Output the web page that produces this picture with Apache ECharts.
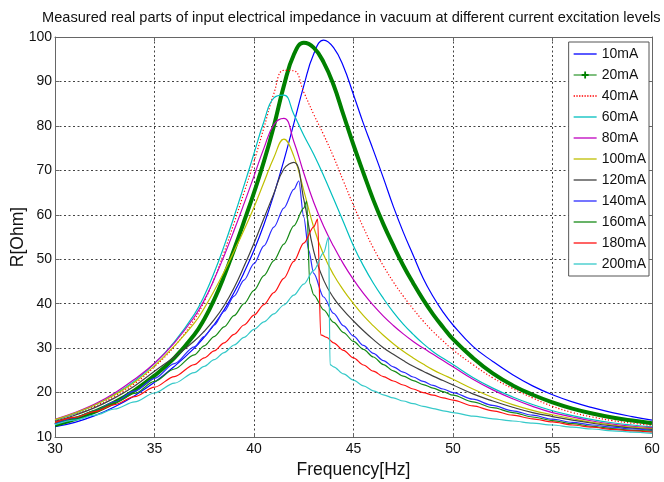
<!DOCTYPE html>
<html><head><meta charset="utf-8">
<script src="https://cdn.jsdelivr.net/npm/echarts@6/dist/echarts.min.js"></script>
<style>html,body{margin:0;padding:0;background:#fff}#c{width:664px;height:482px}</style>
</head><body><div id="c"></div>
<script>
// ---- data ----
const titleText = 'Measured real parts of input electrical impedance in vacuum at different current excitation levels';
const seriesNames = ['10mA','20mA','40mA','60mA','80mA','100mA','120mA','140mA','160mA','180mA','200mA'];
const xTicks = [30, 35, 40, 45, 50, 55, 60];
const yTicks = [10, 20, 30, 40, 50, 60, 70, 80, 90, 100];

// shared frequency grid (Hz)
const freqs = [30,31,32,33,34,35,36,37,
  37.5,38,38.5,39,39.5,40,40.5,41,41.5,42,42.5,43,43.5,44,44.5,45,45.5,46,46.5,47,47.5,48,48.5,49,49.5,50,
  51,52,53,54,55,56,57,58,59,60];

const r10 = [12.3,13.3,14.8,16.8,19.3,22.3,25.9,30.0,
  32.5,35.3,38.6,42.5,47.0,52.0,57.8,64.6,72.2,80.5,89.0,96.2,99.3,97.6,93.3,87.0,80.5,74.5,68.3,61.9,56.1,50.9,45.7,41.6,38.1,35.2,
  30.4,27.0,24.0,21.5,19.5,17.9,16.6,15.5,14.6,13.8];
const r20 = [12.7,14.0,15.7,17.8,20.5,23.8,27.8,33.0,
  36.5,40.9,46.2,52.2,58.5,65.0,72.0,80.0,89.0,96.0,98.7,97.6,94.3,89.2,82.4,75.7,69.4,63.3,57.9,53.1,48.6,44.6,40.9,37.6,34.7,32.0,
  27.8,24.3,21.6,19.5,17.8,16.4,15.3,14.4,13.7,13.1];
const r40 = [13.7,15.1,16.9,19.2,22.0,25.8,30.4,36.4,
  40.5,45.6,51.6,58.2,65.0,72.0,79.6,87.3,92.5,92.4,87.6,82.6,78.0,73.0,67.5,62.1,57.1,52.5,48.5,44.9,41.7,38.8,36.1,33.7,31.6,29.6,
  26.3,23.3,20.9,18.8,16.9,15.5,14.5,13.7,13.1,12.6];
const r60 = [13.8,15.3,17.2,19.6,22.6,26.5,31.4,37.6,
  41.8,47.0,53.0,59.6,66.6,73.8,81.0,86.3,86.9,82.6,77.9,73.6,68.8,63.6,58.3,53.0,48.5,44.6,41.2,38.1,35.4,33.1,31.0,29.2,27.7,26.3,
  23.4,21.0,19.0,17.3,15.9,14.8,13.9,13.2,12.7,12.3];
const r80 = [14.0,15.5,17.4,19.9,23.0,26.6,31.2,37.0,
  40.8,45.5,50.8,56.5,62.5,68.7,75.0,80.3,81.7,76.5,69.4,62.8,57.4,52.9,48.9,45.4,42.3,39.6,37.2,35.1,33.2,31.5,30.0,28.6,27.2,25.8,
  23.0,20.6,18.6,16.9,15.5,14.5,13.6,12.9,12.4,12.1];
const r100 = [13.9,15.4,17.2,19.5,22.3,26.0,30.5,35.6,
  39.0,42.9,47.2,51.8,56.6,61.7,67.3,72.9,77.0,73.2,65.5,57.2,51.0,46.5,43.0,40.0,37.3,35.0,32.9,31.0,29.3,27.8,26.4,25.1,24.0,23.0,
  20.8,18.9,17.3,16.0,15.0,14.1,13.3,12.7,12.2,11.9];
const r120 = [13.5,14.9,16.6,18.8,21.5,24.8,28.0,31.6,
  33.8,36.4,39.6,43.6,48.4,53.6,59.2,64.8,70.3,71.8,63.5,51.8,45.3,41.3,38.5,36.1,33.9,31.9,30.1,28.6,27.2,25.9,24.8,23.7,22.7,21.7,
  19.7,18.1,16.7,15.5,14.6,13.8,13.1,12.5,12.0,11.7];

// curves with a sudden drop after the peak have their own frequency lists
const freqs140 = [30,31,32,33,34,35,36,37,
  37.5,38,38.5,39,39.5,40,40.5,41,41.5,42,
  42.25,42.5,42.75,43,
  43.5,44,44.5,45,45.5,46,46.5,47,47.5,48,48.5,49,49.5,50,
  51,52,53,54,55,56,57,58,59,60];
const r140 = [13.0,14.3,15.9,17.9,20.3,23.2,26.5,30.3,
  32.6,35.2,38.3,41.7,45.3,49.0,53.0,57.2,61.5,65.7,
  67.6,59.5,52.0,46.8,
  41.5,37.8,35.0,32.7,30.6,28.8,27.2,25.8,24.6,23.5,22.5,21.6,20.8,20.0,
  18.5,17.1,15.9,14.9,14.0,13.3,12.7,12.2,11.8,11.5];

const freqs160 = [30,31,32,33,34,35,36,37,
  37.5,38,38.5,39,39.5,40,40.5,41,41.5,42,42.5,
  42.65,42.8,43,
  43.5,44,44.5,45,45.5,46,46.5,47,47.5,48,48.5,49,49.5,50,
  51,52,53,54,55,56,57,58,59,60];
const r160 = [13.2,14.4,15.9,17.7,19.8,22.5,25.3,28.5,
  30.5,32.6,34.8,37.3,40.0,43.0,46.3,49.7,53.4,57.5,61.5,
  63.1,44.5,42.0,
  38.6,35.8,33.5,31.5,29.7,28.0,26.3,24.9,23.7,22.7,21.8,21.0,20.2,19.4,
  17.9,16.6,15.5,14.5,13.7,13.0,12.4,11.9,11.5,11.3];

const freqs180 = [30,31,32,33,34,35,36,37,
  37.5,38,38.5,39,39.5,40,40.5,41,41.5,42,42.5,43,
  43.2,43.35,43.65,
  44,44.5,45,45.5,46,46.5,47,47.5,48,48.5,49,49.5,50,
  51,52,53,54,55,56,57,58,59,60];
const r180 = [13.3,14.4,15.7,17.3,19.1,21.2,23.6,26.3,
  27.8,29.4,31.2,33.1,35.2,37.4,39.8,42.5,45.7,49.5,53.6,57.3,
  59.0,33.0,32.4,
  31.2,29.5,27.8,26.2,24.8,23.6,22.6,21.7,20.8,20.0,19.4,18.8,18.3,
  17.0,15.9,14.9,14.1,13.4,12.7,12.2,11.7,11.4,11.1];

const freqs200 = [30,31,32,33,34,35,36,37,
  37.5,38,38.5,39,39.5,40,40.5,41,41.5,42,42.5,43,43.5,
  43.75,43.82,
  44,44.5,45,45.5,46,46.5,47,47.5,48,48.5,49,49.5,50,
  51,52,53,54,55,56,57,58,59,60];
const r200 = [12.8,13.8,14.9,16.3,17.9,19.9,22.1,24.5,
  25.9,27.4,29.0,30.7,32.4,34.2,35.9,37.7,39.7,41.9,44.4,47.5,51.5,
  55.0,26.3,
  25.8,24.2,22.8,21.5,20.4,19.5,18.8,18.1,17.5,16.9,16.4,15.9,15.5,
  14.7,14.1,13.6,13.1,12.7,12.2,11.8,11.4,11.1,10.8];

// ---- chart ----
const FONT = 'Liberation Sans, Arial, sans-serif';
const colors = ['#0000ff','#008000','#ff0000','#00bfbf','#bf00bf','#bfbf00','#404040','#2b2bff','#168a16','#ff1010','#35c9c9'];
const seriesFreqs = [freqs,freqs,freqs,freqs,freqs,freqs,freqs,freqs140,freqs160,freqs180,freqs200];
const seriesVals = [r10,r20,r40,r60,r80,r100,r120,r140,r160,r180,r200];
const dropSeries = ['140mA','160mA','180mA','200mA'];

function pairs(f, v){ return f.map((x,i)=>[x, v[i]]); }

const series = seriesNames.map((name, i) => {
  const isDrop = dropSeries.indexOf(name) >= 0;
  const s = {
    name: name, type: 'line', data: pairs(seriesFreqs[i], seriesVals[i]),
    symbol: 'none', smooth: isDrop ? 0.3 : 0.45,
    color: colors[i],
    lineStyle: {width: 1.2, color: colors[i]},
    animation: false
  };
  if (isDrop) s.smoothMonotone = 'x';
  if (name === '20mA') { s.lineStyle.width = 4; }
  if (name === '40mA') { s.lineStyle.type = [1.2, 2]; }
  return s;
});

// legend icons: solid line, dotted line, line with plus marker
const solidIcon = 'path://M0,0H23V1.3H0Z';
let dotted = '';
for (let x = 0; x < 23; x += 2.6) dotted += 'M' + x + ',0H' + (x + 1.3) + 'V1.3H' + x + 'Z';
const dottedIcon = 'path://' + dotted;
const plusIcon = 'path://M0,6.4H23V7.6H0Z M10.6,3.5H12.4V10.5H10.6Z M8,6.1H15V7.9H8Z';
const legendData = seriesNames.map(n => ({
  name: n,
  icon: n === '20mA' ? plusIcon : (n === '40mA' ? dottedIcon : solidIcon)
}));

const gridLine = {show: true, lineStyle: {color: '#444', type: [2, 2.5], width: 1}};
const axLine = {show: true, lineStyle: {color: '#666', width: 1}};
const tick = {show: true, inside: true, length: 4, lineStyle: {color: '#666'}};

const option = {
  backgroundColor: '#fff',
  animation: false,
  title: {text: titleText, left: 37, top: 5,
    textStyle: {fontFamily: FONT, fontSize: 14.6, fontWeight: 'normal', color: '#111'}},
  grid: {left: 55, right: 12, top: 37, bottom: 45, outerBoundsMode: 'none', containLabel: false},
  legend: {
    data: legendData, orient: 'vertical', right: 15, top: 42,
    itemWidth: 23, itemHeight: 14, itemGap: 7, padding: [5, 3, 5, 5],
    backgroundColor: '#fff', borderColor: '#555', borderWidth: 1,
    textStyle: {fontFamily: FONT, fontSize: 14, color: '#111'},
    selectedMode: false
  },
  xAxis: [
    {type: 'value', min: xTicks[0], max: xTicks[xTicks.length-1], interval: xTicks[1]-xTicks[0], position: 'bottom',
     name: 'Frequency[Hz]', nameLocation: 'middle', nameGap: 18,
     nameTextStyle: {fontFamily: FONT, fontSize: 17.5, color: '#111'},
     axisLine: axLine, axisTick: tick,
     axisLabel: {fontFamily: FONT, fontSize: 14, color: '#111', margin: 5},
     splitLine: gridLine},
    {type: 'value', min: xTicks[0], max: xTicks[xTicks.length-1], interval: xTicks[1]-xTicks[0], position: 'top',
     axisLine: axLine, axisTick: tick, axisLabel: {show: false}, splitLine: {show: false}}
  ],
  yAxis: [
    {type: 'value', min: yTicks[0], max: yTicks[yTicks.length-1], interval: yTicks[1]-yTicks[0], position: 'left',
     name: 'R[Ohm]', nameLocation: 'middle', nameGap: 28, nameMoveOverlap: false,
     nameTextStyle: {fontFamily: FONT, fontSize: 17.5, color: '#111'},
     axisLine: axLine, axisTick: tick,
     axisLabel: {fontFamily: FONT, fontSize: 14, color: '#111', margin: 3},
     splitLine: gridLine},
    {type: 'value', min: yTicks[0], max: yTicks[yTicks.length-1], interval: yTicks[1]-yTicks[0], position: 'right',
     axisLine: axLine, axisTick: tick, axisLabel: {show: false}, splitLine: {show: false}}
  ],
  series: series
};

const chart = echarts.init(document.getElementById('c'), null, {renderer: 'canvas'});
chart.setOption(option);
</script>
</body></html>
